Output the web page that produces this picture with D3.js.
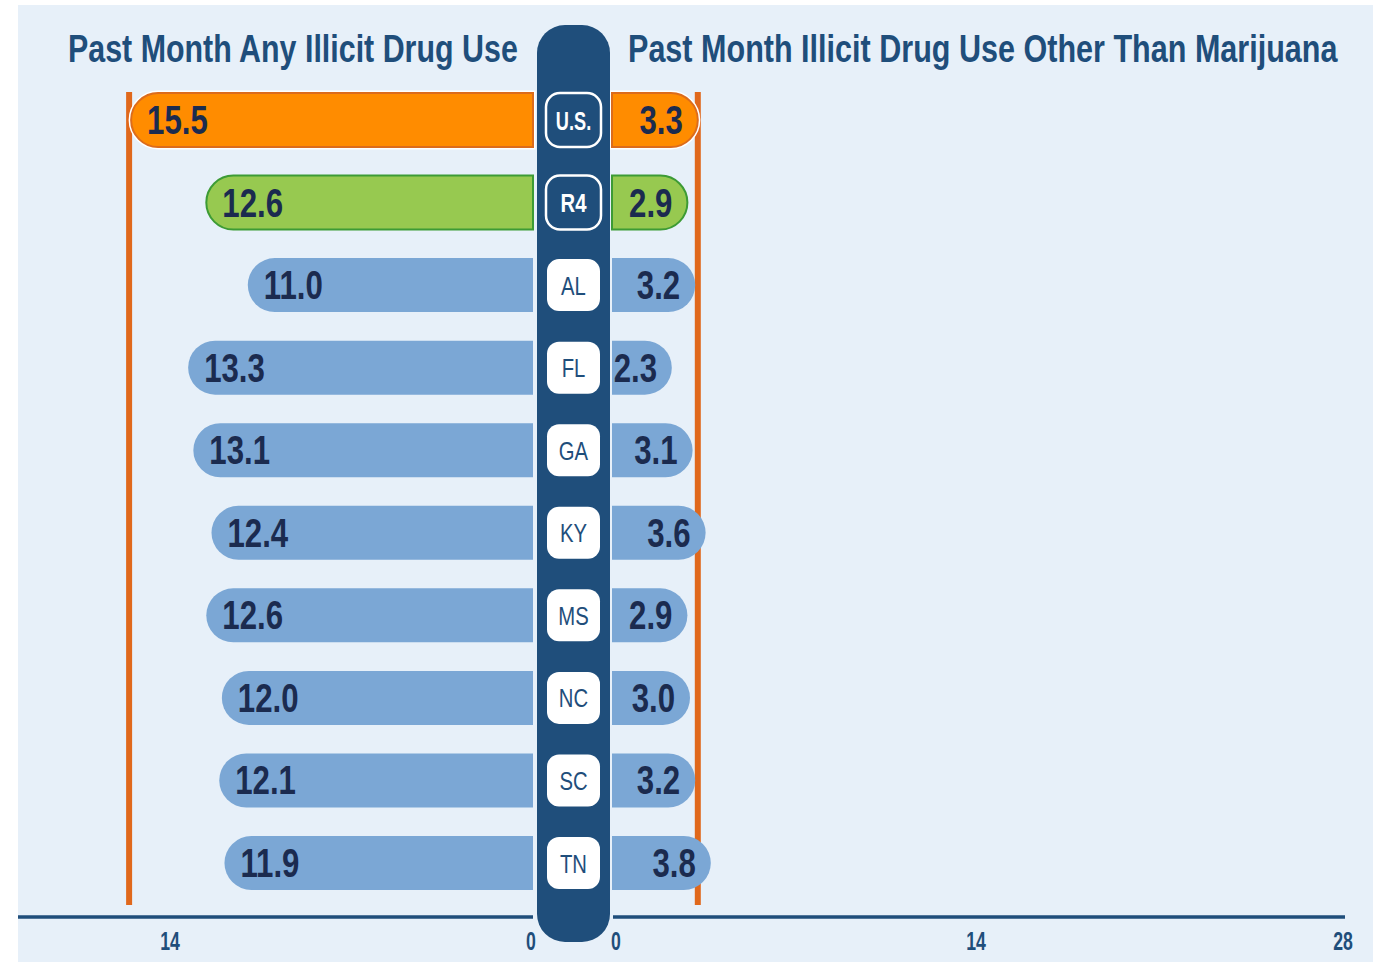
<!DOCTYPE html>
<html>
<head>
<meta charset="utf-8">
<script src="https://cdn.jsdelivr.net/npm/d3@7"></script>
<style>
  html, body { margin: 0; padding: 0; background: #ffffff; }
  svg { display: block; }
  text { font-family: "Liberation Sans", Arial, sans-serif; }
</style>
</head>
<body>
<svg id="chart" width="1373" height="962"></svg>
<script>
// Row labels (top to bottom)
const regions = ["U.S.", "R4", "AL", "FL", "GA", "KY", "MS", "NC", "SC", "TN"];
// Past month any illicit drug use (%)
const anyIllicit = [15.5, 12.6, 11.0, 13.3, 13.1, 12.4, 12.6, 12.0, 12.1, 11.9];
// Past month illicit drug use other than marijuana (%)
const otherThanMarijuana = [3.3, 2.9, 3.2, 2.3, 3.1, 3.6, 2.9, 3.0, 3.2, 3.8];
// Axis ticks
const leftTicks = [0, 14];
const rightTicks = [0, 14, 28];
const titles = ["Past Month Any Illicit Drug Use", "Past Month Illicit Drug Use Other Than Marijuana"];

const C = {
  panel: "#e7f0f9",
  navy: "#1f4e7b",
  valueText: "#1b2b4f",
  blue: "#7ba7d5",
  orange: "#ff8c00",
  orangeStroke: "#dc6c1c",
  green: "#97c950",
  greenStroke: "#3d9b35",
  refLine: "#e0681c"
};
// horizontal squeeze giving the condensed letterforms
const SQUEEZE = 0.8;

const svg = d3.select("#chart");

// Panel background
svg.append("rect").attr("x", 18).attr("y", 5).attr("width", 1373 - 18).attr("height", 962 - 5)
  .attr("fill", C.panel);

// Scales
const xL = d3.scaleLinear().domain([0, 14]).range([533, 170]);
const xR = d3.scaleLinear().domain([0, 28]).range([612, 1340]);
const y = d3.scalePoint().domain(regions).range([120, 863]);
const barH = 54;

// Bar with rounded outer end, square inner end
function leftBar(x0, x1, yc) {
  const r = barH / 2;
  return `M${x1},${yc - r} L${x0 + r},${yc - r} A${r},${r} 0 0 0 ${x0 + r},${yc + r} L${x1},${yc + r} Z`;
}
function rightBar(x0, x1, yc) {
  const r = barH / 2;
  return `M${x0},${yc - r} L${x1 - r},${yc - r} A${r},${r} 0 0 1 ${x1 - r},${yc + r} L${x0},${yc + r} Z`;
}
const squeezeAt = (x, yy, k = SQUEEZE) => `translate(${x},${yy}) scale(${k},1)`;

const rows = regions.map((r, i) => ({ region: r, left: anyIllicit[i], right: otherThanMarijuana[i], i }));
const fillOf = d => d.i === 0 ? C.orange : d.i === 1 ? C.green : C.blue;
const strokeOf = d => d.i === 0 ? C.orangeStroke : d.i === 1 ? C.greenStroke : "none";

// U.S. reference lines
svg.append("line").attr("x1", xL(anyIllicit[0]) - 2).attr("x2", xL(anyIllicit[0]) - 2)
  .attr("y1", 92).attr("y2", 905).attr("stroke", C.refLine).attr("stroke-width", 6);
svg.append("line").attr("x1", xR(otherThanMarijuana[0])).attr("x2", xR(otherThanMarijuana[0]))
  .attr("y1", 92).attr("y2", 905).attr("stroke", C.refLine).attr("stroke-width", 6);

// Axis baseline
const axisY = 917;
svg.append("line").attr("x1", 18).attr("x2", 533).attr("y1", axisY).attr("y2", axisY)
  .attr("stroke", C.navy).attr("stroke-width", 3.5);
svg.append("line").attr("x1", 613).attr("x2", 1345).attr("y1", axisY).attr("y2", axisY)
  .attr("stroke", C.navy).attr("stroke-width", 3.5);

// Bars
const g = svg.append("g");
// white halo behind the U.S. bar ends
g.append("path").attr("d", leftBar(xL(rows[0].left), xL(0), y(rows[0].region)))
  .attr("fill", "none").attr("stroke", "#ffffff").attr("stroke-width", 5);
g.append("path").attr("d", rightBar(xR(0), xR(rows[0].right), y(rows[0].region)))
  .attr("fill", "none").attr("stroke", "#ffffff").attr("stroke-width", 5);

g.selectAll("path.lbar").data(rows).join("path").attr("class", "lbar")
  .attr("d", d => leftBar(xL(d.left), xL(0), y(d.region)))
  .attr("fill", fillOf).attr("stroke", strokeOf).attr("stroke-width", 2);
g.selectAll("path.rbar").data(rows).join("path").attr("class", "rbar")
  .attr("d", d => rightBar(xR(0), xR(d.right), y(d.region)))
  .attr("fill", fillOf).attr("stroke", strokeOf).attr("stroke-width", 2);

// Value labels
g.selectAll("text.lval").data(rows).join("text").attr("class", "lval")
  .attr("transform", d => squeezeAt(xL(d.left) + 16, y(d.region) + 14, 0.78))
  .attr("font-size", 40).attr("font-weight", "bold").attr("fill", C.valueText)
  .text(d => d.left.toFixed(1));
g.selectAll("text.rval").data(rows).join("text").attr("class", "rval")
  .attr("transform", d => squeezeAt(Math.max(xR(d.right) - 15, xR(0) + 45), y(d.region) + 14, 0.78))
  .attr("text-anchor", "end")
  .attr("font-size", 40).attr("font-weight", "bold").attr("fill", C.valueText)
  .text(d => d.right.toFixed(1));

// Central band
svg.append("rect").attr("x", 537).attr("y", 25).attr("width", 73).attr("height", 917)
  .attr("rx", 28).attr("fill", C.navy);

// Region badges
const badges = svg.append("g").selectAll("g").data(rows).join("g")
  .attr("transform", d => `translate(573.5,${y(d.region)})`);
badges.append("rect")
  .attr("x", d => d.i < 2 ? -27.5 : -26.5).attr("y", d => d.i < 2 ? -27 : -26)
  .attr("width", d => d.i < 2 ? 55 : 53).attr("height", d => d.i < 2 ? 54 : 52)
  .attr("rx", d => d.i < 2 ? 14 : 12)
  .attr("fill", d => d.i < 2 ? C.navy : "#ffffff")
  .attr("stroke", d => d.i < 2 ? "#ffffff" : "none").attr("stroke-width", 2.5);
badges.append("text")
  .attr("text-anchor", "middle")
  .attr("transform", d => squeezeAt(0, 9.5, d.i === 0 ? 0.7 : 0.78))
  .attr("font-size", 26).attr("font-weight", d => d.i < 2 ? "bold" : "normal")
  .attr("fill", d => d.i < 2 ? "#ffffff" : C.navy)
  .text(d => d.region);

// Titles, squeezed to their column widths
const titleSpec = [{ x: 68, w: 450 }, { x: 628, w: 710 }];
titleSpec.forEach((t, i) => {
  const el = svg.append("text").attr("font-size", 39).attr("font-weight", "bold")
    .attr("fill", C.navy).text(titles[i]);
  const natural = el.node().getComputedTextLength();
  el.attr("transform", squeezeAt(t.x, 62, t.w / natural));
});

// Tick labels
function styleTicks(sel) {
  sel.select(".domain").remove();
  sel.selectAll(".tick line").remove();
  sel.selectAll(".tick text")
    .attr("font-size", 26).attr("font-weight", "bold").attr("fill", C.navy)
    .attr("font-family", "\"Liberation Sans\", Arial, sans-serif")
    .attr("transform", "scale(0.68,1)");
}
svg.append("g").attr("transform", `translate(0,${axisY + 9})`)
  .call(d3.axisBottom(xL).tickValues(leftTicks).tickSize(0).tickPadding(6).tickFormat(d3.format("d")))
  .call(styleTicks)
  .selectAll(".tick").attr("transform", d => `translate(${d === 0 ? 531 : xL(d)},0)`);
svg.append("g").attr("transform", `translate(0,${axisY + 9})`)
  .call(d3.axisBottom(xR).tickValues(rightTicks).tickSize(0).tickPadding(6).tickFormat(d3.format("d")))
  .call(styleTicks)
  .selectAll(".tick").attr("transform", d => `translate(${d === 0 ? 616 : d === 28 ? 1343 : xR(d)},0)`);
</script>
</body>
</html>
